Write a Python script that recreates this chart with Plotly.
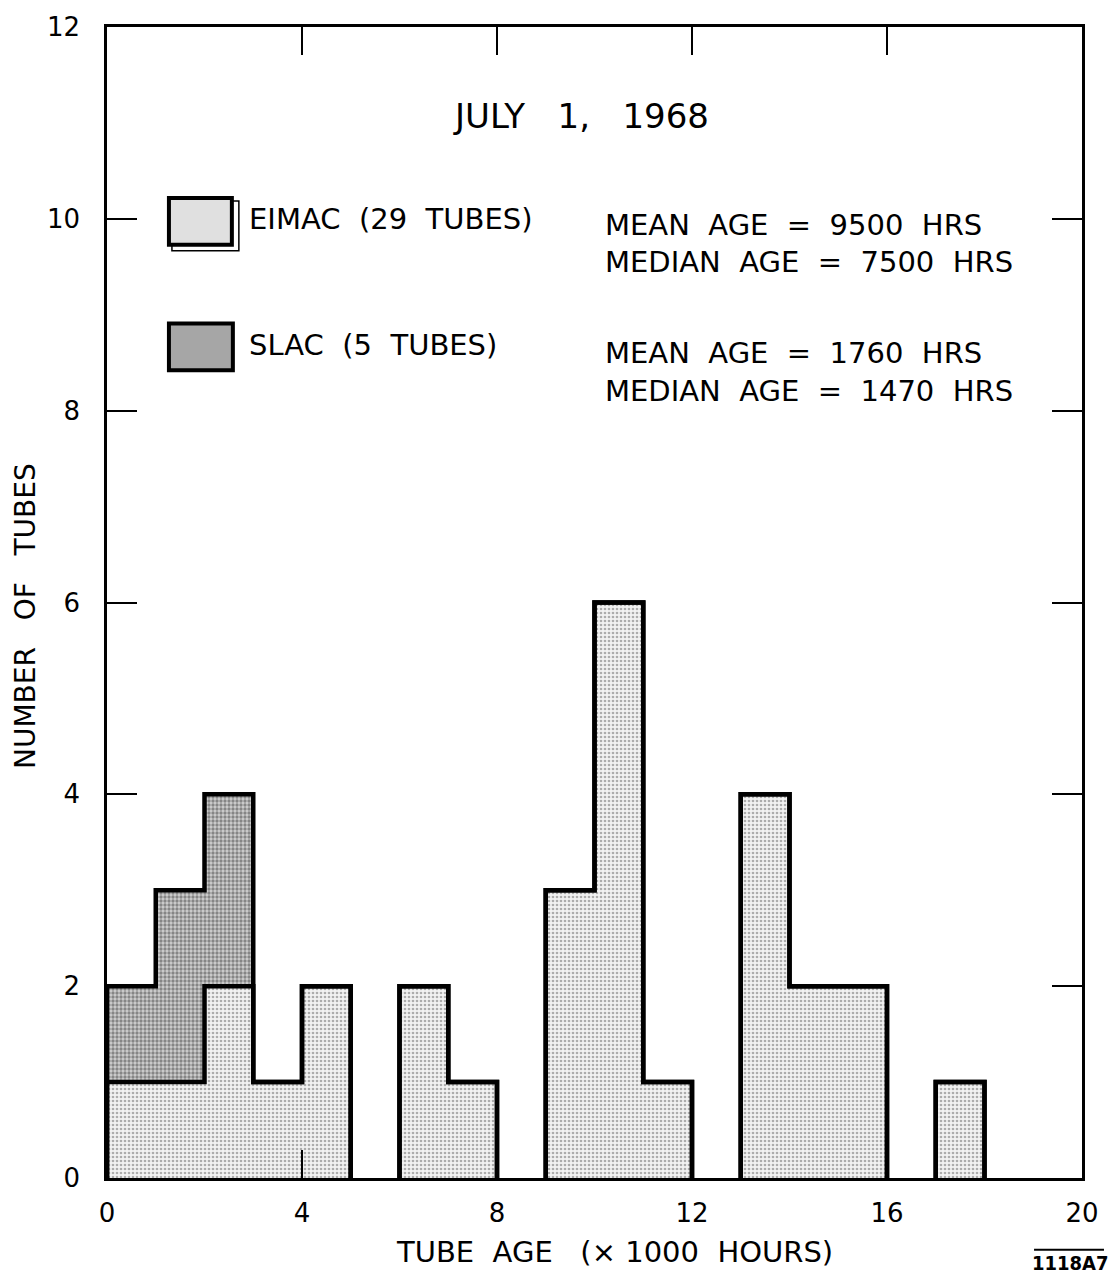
import plotly.graph_objects as go

# Data: bins of 1000 hours (x in thousands of hours)
bin_left = list(range(0, 18))
eimac = [1, 1, 2, 1, 2, 0, 2, 1, 0, 3, 6, 1, 0, 4, 2, 2, 0, 1]
slac = [1, 2, 2, 0, 0, 0, 0, 0, 0, 0, 0, 0, 0, 0, 0, 0, 0, 0]
x_ticks = [0, 4, 8, 12, 16, 20]
y_ticks = [0, 2, 4, 6, 8, 10, 12]

centers = [b + 0.5 for b in bin_left]
total = [e + s for e, s in zip(eimac, slac)]

FONT = "DejaVu Sans"

fig = go.Figure()
fig.add_trace(go.Bar(
    x=centers, y=eimac, width=1, name="EIMAC",
    marker=dict(color="white", line=dict(width=0),
                pattern=dict(shape=".", fgcolor="#666666", bgcolor="#f2f2f2",
                             size=4, solidity=0.35)),
))
fig.add_trace(go.Bar(
    x=centers, y=slac, width=1, name="SLAC",
    marker=dict(color="white", line=dict(width=0),
                pattern=dict(shape=".", fgcolor="#3a3a3a", bgcolor="#d0d0d0",
                             size=4, solidity=0.55)),
))


def step_outline(vals):
    """Outline of each contiguous run of non-empty bins (no line along y=0)."""
    xs, ys = [], []
    i, n = 0, len(vals)
    while i < n:
        if vals[i] == 0:
            i += 1
            continue
        j = i
        while j + 1 < n and vals[j + 1] != 0:
            j += 1
        run_x = [bin_left[i]] + [bin_left[k] for k in range(i, j + 1)] + [bin_left[j] + 1]
        run_y = [0] + [vals[k] for k in range(i, j + 1)] + [0]
        xs += run_x + [None]
        ys += run_y + [None]
        i = j + 1
    return xs, ys


for vals in (eimac, total):
    xs, ys = step_outline(vals)
    fig.add_trace(go.Scatter(x=xs, y=ys, mode="lines", connectgaps=False,
                             line=dict(color="black", width=4.5, shape="hv"),
                             hoverinfo="skip"))

L, R, T, B = 107, 1083, 21, 1178
PW, PH = R - L, B - T


def px(x):
    return (x - L) / PW


def py(y):
    return (B - y) / PH


fig.update_layout(
    width=1111, height=1276,
    margin=dict(l=L, r=1111 - R, t=T, b=1276 - B),
    paper_bgcolor="white", plot_bgcolor="white",
    barmode="stack", bargap=0, showlegend=False,
    font=dict(family=FONT, color="black"),
)
fig.update_xaxes(range=[0, 20], tickvals=x_ticks, ticktext=[str(v) for v in x_ticks],
                 ticks="inside", ticklen=28, tickwidth=1.5, tickcolor="black",
                 showline=True, linecolor="black", linewidth=2.5, mirror="allticks",
                 showgrid=False, zeroline=False, tickfont=dict(size=26, family=FONT),
                 ticklabelstandoff=10)
fig.update_yaxes(range=[0, 12], tickvals=y_ticks, ticktext=[str(v) for v in y_ticks],
                 ticks="inside", ticklen=30, tickwidth=1.5, tickcolor="black",
                 showline=True, linecolor="black", linewidth=2.5, mirror="allticks",
                 showgrid=False, zeroline=False, tickfont=dict(size=26, family=FONT),
                 ticklabelstandoff=19)

ann = []


def text(t, x, y, size=29, xanchor="left", **kw):
    ann.append(dict(text=t, x=px(x), y=py(y), xref="paper", yref="paper",
                    xanchor=xanchor, yanchor="middle", showarrow=False,
                    font=dict(size=size, family=FONT, color="black"), **kw))


text("JULY   1,   1968", 581, 110, size=34, xanchor="center")
text("EIMAC  (29  TUBES)", 247, 214)
text("SLAC  (5  TUBES)", 247, 341)
text("MEAN  AGE  =  9500  HRS", 604, 220)
text("MEDIAN  AGE  =  7500  HRS", 604, 257)
text("MEAN  AGE  =  1760  HRS", 604, 349)
text("MEDIAN  AGE  =  1470  HRS", 604, 387)
text("TUBE  AGE   (× 1000  HOURS)", 615, 1252, size=29, xanchor="center")
ann.append(dict(text="NUMBER   OF   TUBES", x=px(26), y=py(613), xref="paper", yref="paper",
                xanchor="center", yanchor="middle", showarrow=False, textangle=-90,
                font=dict(size=28, family=FONT, color="black")))
ann.append(dict(text="<b>1118A7</b>", x=px(1071), y=py(1263), xref="paper", yref="paper",
                xanchor="center", yanchor="middle", showarrow=False,
                font=dict(size=20, family="DejaVu Sans Condensed", color="black")))
fig.update_layout(annotations=ann)

shapes = []


def rect(x0, y0, x1, y1, lw, fill):
    shapes.append(dict(type="rect", xref="paper", yref="paper",
                       x0=px(x0), x1=px(x1), y0=py(y1), y1=py(y0),
                       line=dict(color="black", width=lw), fillcolor=fill))


rect(172, 196, 239, 246, 1.5, "white")
rect(169, 193, 232, 240, 4, "#e0e0e0")
rect(169, 319, 233, 366, 4, "#a6a6a6")
shapes.append(dict(type="line", xref="paper", yref="paper",
                   x0=px(1035), x1=px(1105), y0=py(1250), y1=py(1250),
                   line=dict(color="black", width=2)))
fig.update_layout(shapes=shapes)

fig.write_html("out.html")
